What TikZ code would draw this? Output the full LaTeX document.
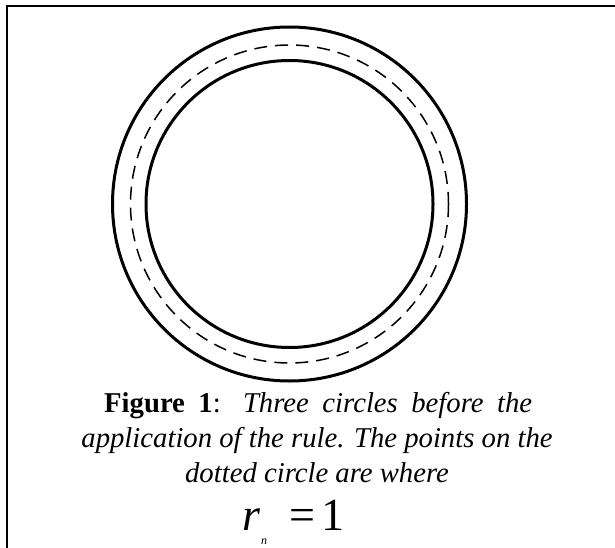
\documentclass[tikz,border=0pt]{standalone}
\usepackage{fontspec}
\setmainfont{Liberation Serif}
\begin{document}
\begin{tikzpicture}[x=1pt,y=-1pt,
  ring/.style={line width=3pt},
  dashring/.style={line width=1.5pt, dash pattern=on 13pt off 8pt},
  frame/.style={line width=2.2pt},
  captxt/.style={inner sep=0pt, anchor=base west, font=\fontsize{28.7}{35}\selectfont},
  eqtxt/.style={inner sep=0pt, anchor=base west, font=\fontsize{46}{52}\selectfont}]
\useasboundingbox (0,0) rectangle (615,548);
\fill[white] (0,0) rectangle (615,548);
\draw[frame] (7,548) -- (7,6) -- (615,6);
\coordinate (c) at (289.5,204);
\draw[ring] (c) circle [radius=177];
\draw[dashring] (c) circle [radius=159];
\draw[ring] (c) circle [radius=143.5];
\node[captxt] (l1) at (104,412) {\makebox[428pt][s]{\textbf{Figure 1}: \textit{Three circles before the}}};
\node[captxt] (l2) at (317,447) [anchor=base] {\textit{application of the rule. The points on the}};
\node[captxt] (l3) at (317,482) [anchor=base] {\textit{dotted circle are where}};
\node[eqtxt] (r) at (242,530) {\textit{r}};
\node[inner sep=0pt, anchor=base west, font=\fontsize{12}{14}\selectfont] (n) at (261,544) {\textit{n}};
\node[eqtxt] (eqs) at (289,530) {=};
\node[eqtxt] (one) at (321,530) {1};
\end{tikzpicture}
\end{document}
